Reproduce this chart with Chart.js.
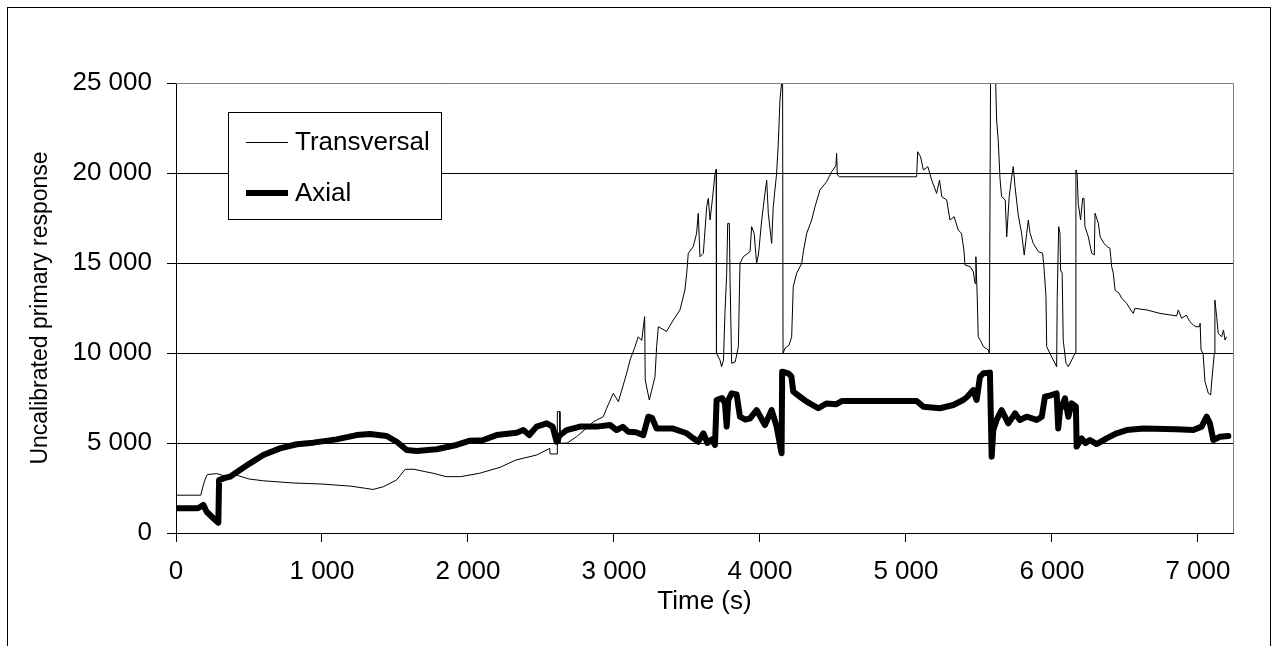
<!DOCTYPE html>
<html>
<head>
<meta charset="utf-8">
<script src="https://cdn.jsdelivr.net/npm/chart.js@4.4.0/dist/chart.umd.min.js"></script>
<style>
  html, body { margin: 0; padding: 0; background: #fff; }
  #wrap { width: 1274px; height: 646px; position: relative; }
</style>
</head>
<body>
<div id="wrap"><canvas id="chart"></canvas></div>
<script>
// ---- data ----
var transTime = [0, 170, 185, 200, 215, 280, 320, 420, 500, 600, 800, 1000, 1200, 1300, 1350, 1420, 1510, 1570, 1630, 1700,
  1760, 1850, 1950, 2080, 2220, 2330, 2470, 2560, 2562, 2610, 2612, 2628, 2630, 2680, 2744, 2836, 2858, 2927, 2950, 2995,
  3030, 3087, 3110, 3144, 3166, 3190, 3210, 3214, 3242, 3281, 3292, 3304, 3360, 3406, 3452, 3486, 3498, 3509, 3543, 3566,
  3577, 3589, 3612, 3635, 3646, 3658, 3675, 3692, 3700, 3702, 3726, 3737, 3750, 3760, 3772, 3779, 3790, 3795, 3806, 3830,
  3852, 3863, 3886, 3932, 3943, 3960, 3977, 3990, 4012, 4034, 4046, 4057, 4080, 4091, 4114, 4125, 4137, 4148, 4155, 4158,
  4171, 4200, 4217, 4228, 4251, 4286, 4297, 4320, 4354, 4377, 4411, 4457, 4491, 4520, 4525, 4530, 4545, 5073, 5080, 5100,
  5119, 5150, 5176, 5210, 5230, 5245, 5279, 5301, 5330, 5358, 5380, 5397, 5404, 5440, 5461, 5473, 5479, 5488, 5495, 5510,
  5530, 5564, 5571, 5580, 5610, 5621, 5632, 5644, 5655, 5680, 5690, 5707, 5724, 5735, 5747, 5769, 5792, 5810, 5827, 5838,
  5850, 5872, 5907, 5936, 5945, 5959, 5964, 5986, 6009, 6032, 6036, 6046, 6055, 6059, 6070, 6077, 6096, 6112, 6135, 6158,
  6164, 6172, 6180, 6196, 6210, 6219, 6226, 6249, 6272, 6290, 6295, 6318, 6330, 6356, 6380, 6397, 6409, 6420, 6432, 6460,
  6477, 6512, 6540, 6557, 6568, 6650, 6740, 6854, 6865, 6888, 6920, 6945, 6970, 6986, 7010, 7015, 7021, 7035, 7048, 7071,
  7087, 7095, 7112, 7116, 7128, 7139, 7162, 7175, 7185, 7196];
var transValue = [2100, 2100, 2600, 3000, 3250, 3300, 3200, 3200, 3000, 2900, 2780, 2720, 2600, 2480, 2420, 2570, 2940, 3540, 3540, 3420,
  3320, 3130, 3130, 3320, 3650, 4060, 4330, 4700, 4390, 4390, 6740, 6740, 4980, 5000, 5350, 6000, 6180, 6460, 6930, 7760,
  7300, 8870, 9610, 10350, 10900, 10700, 12020, 8500, 7390, 8680, 10350, 11460, 11200, 11830, 12390, 13500, 14430, 15540, 15910, 16650,
  17760, 15350, 15540, 18130, 18590, 17390, 18600, 19980, 20200, 9980, 9610, 9240, 9610, 12200, 14430, 17200, 17200, 14060, 9430, 9500,
  10350, 14980, 15350, 15630, 17020, 16650, 14980, 15500, 17390, 18870, 19610, 17760, 16090, 18130, 19980, 21560, 24060, 25000, 25000, 9980,
  10260, 10450, 10900, 13690, 14430, 14980, 15630, 16650, 17390, 18130, 19060, 19520, 20070, 20400, 21090, 19890, 19790, 19790, 21180, 20900,
  20170, 20350, 19610, 18870, 19600, 18690, 18500, 17390, 17570, 16830, 16650, 15720, 14890, 14800, 14520, 13870, 15350, 13130, 10900, 10700,
  10350, 10170, 9980, 26500, 26500, 22940, 21830, 19700, 18690, 18500, 16460, 18690, 19790, 20350, 19240, 17670, 16650, 15440, 16650, 17390,
  16650, 16090, 15630, 15540, 14800, 13130, 10350, 9980, 9610, 9240, 13130, 17020, 16650, 14610, 14430, 10720, 9430, 9240, 9610, 9980,
  20170, 19980, 18310, 17390, 18590, 18590, 17020, 16460, 15540, 15450, 17760, 17200, 16460, 16090, 15900, 15820, 14800, 14430, 13500, 13320,
  13040, 12760, 12390, 12200, 12480, 12390, 12200, 12060, 12390, 11930, 12100, 11740, 11550, 11460, 11460, 11650, 10170, 9980, 8410, 7760,
  7670, 8500, 9980, 12940, 12020, 11090, 10900, 11280, 10720, 10900];

var axialTime = [0, 150, 187, 210, 256, 290, 295, 330, 370, 438, 507, 598, 712, 827, 940, 1100, 1237, 1329, 1443, 1512,
  1580, 1649, 1786, 1922, 2014, 2100, 2196, 2333, 2379, 2420, 2470, 2539, 2580, 2607, 2630, 2676, 2767, 2882, 2973, 3018,
  3060, 3098, 3150, 3201, 3235, 3260, 3292, 3400, 3498, 3543, 3577, 3612, 3640, 3670, 3692, 3703, 3740, 3760, 3772, 3783,
  3806, 3840, 3863, 3900, 3932, 3977, 4034, 4080, 4114, 4148, 4152, 4194, 4215, 4228, 4274, 4320, 4399, 4457, 4520, 4560,
  5073, 5119, 5233, 5324, 5392, 5420, 5461, 5484, 5507, 5530, 5575, 5587, 5598, 5621, 5655, 5701, 5747, 5780, 5827, 5895,
  5930, 5952, 5990, 6032, 6043, 6055, 6089, 6112, 6135, 6164, 6169, 6203, 6230, 6260, 6306, 6374, 6443, 6512, 6626, 6854,
  6968, 7025, 7059, 7082, 7105, 7151, 7208];
var axialValue = [1370, 1370, 1560, 1180, 820, 570, 2940, 3050, 3130, 3500, 3870, 4330, 4700, 4930, 5020, 5200, 5440, 5500, 5390, 5070,
  4610, 4560, 4650, 4890, 5130, 5150, 5440, 5570, 5720, 5440, 5910, 6090, 5910, 5070, 5440, 5720, 5910, 5910, 6000, 5720,
  5900, 5630, 5600, 5440, 6460, 6400, 5810, 5810, 5540, 5260, 5070, 5540, 5000, 5200, 4890, 7390, 7500, 7200, 5910, 7390,
  7760, 7700, 6460, 6300, 6370, 6830, 6000, 6830, 5910, 4430, 8960, 8870, 8700, 7850, 7570, 7300, 6930, 7200, 7150, 7330,
  7330, 7020, 6930, 7110, 7390, 7570, 7940, 7390, 8680, 8870, 8910, 4240, 5720, 6280, 6830, 6090, 6650, 6280, 6460, 6280,
  6460, 7570, 7650, 7760, 5810, 6830, 7480, 6460, 7200, 7020, 4800, 5260, 5000, 5170, 4940, 5260, 5540, 5720, 5810, 5760,
  5720, 5910, 6460, 6090, 5170, 5350, 5390];

var xTicks = [0, 1000, 2000, 3000, 4000, 5000, 6000, 7000];
var yTicks = [0, 5000, 10000, 15000, 20000, 25000];
var seriesNames = ["Transversal", "Axial"];

function points(t, v) {
  return t.map(function(x, i) { return { x: x, y: v[i] }; });
}
function fmt(v) {
  return String(v).replace(/\B(?=(\d{3})+(?!\d))/g, " ");
}

var FONT = "'Liberation Sans', Arial, sans-serif";

// white page + outer frame + plot border (top/right) + legend box
var decor = {
  id: "decor",
  beforeDraw: function(chart) {
    var c = chart.ctx;
    c.save();
    c.fillStyle = "#fff";
    c.fillRect(0, 0, chart.width, chart.height);
    c.restore();
  },
  afterDatasetsDraw: function(chart) {
    var c = chart.ctx, a = chart.chartArea;
    c.save();
    c.strokeStyle = "#808080";
    c.lineWidth = 1;
    c.beginPath();
    c.moveTo(a.left, a.top + 0.5);
    c.lineTo(a.right + 0.5, a.top + 0.5);
    c.lineTo(a.right + 0.5, a.bottom);
    c.stroke();
    c.restore();
  },
  afterDraw: function(chart) {
    var c = chart.ctx;
    c.save();
    c.strokeStyle = "#000";
    c.lineWidth = 1;
    c.strokeRect(7.5, 7.5, 1263, 700);

    // legend
    c.fillStyle = "#fff";
    c.fillRect(228, 112, 214, 107);
    c.strokeRect(228.5, 112.5, 213, 107);
    c.font = "26px " + FONT;
    c.textBaseline = "middle";
    c.fillStyle = "#000";
    var rows = [142, 193];
    chart.data.datasets.forEach(function(ds, i) {
      c.lineWidth = ds.borderWidth;
      c.lineCap = "butt";
      c.beginPath();
      c.moveTo(246, rows[i] + (ds.borderWidth % 2 ? 0.5 : 0));
      c.lineTo(288, rows[i] + (ds.borderWidth % 2 ? 0.5 : 0));
      c.stroke();
      c.fillText(ds.label, 295, rows[i] + 1);
    });
    c.restore();
  }
};

new Chart(document.getElementById("chart"), {
  type: "line",
  data: {
    datasets: [
      {
        label: seriesNames[0],
        data: points(transTime, transValue),
        borderColor: "#000",
        borderWidth: 1,
        pointRadius: 0,
        tension: 0,
        order: 1
      },
      {
        label: seriesNames[1],
        data: points(axialTime, axialValue),
        borderColor: "#000",
        borderWidth: 6,
        borderJoinStyle: "round",
        borderCapStyle: "round",
        pointRadius: 0,
        tension: 0,
        order: 0
      }
    ]
  },
  options: {
    responsive: true,
    maintainAspectRatio: false,
    animation: false,
    devicePixelRatio: 1,
    layout: { padding: { left: 0, right: 41, top: 83, bottom: 0 } },
    plugins: {
      legend: { display: false },
      tooltip: { enabled: false }
    },
    scales: {
      x: {
        type: "linear",
        min: 0,
        max: 7240,
        afterBuildTicks: function(s) { s.ticks = xTicks.map(function(v) { return { value: v }; }); },
        afterFit: function(s) { s.height = 113; },
        ticks: {
          callback: function(v) { return fmt(v); },
          color: "#000",
          font: { family: FONT, size: 26 },
          padding: 14,
          maxRotation: 0,
          autoSkip: false
        },
        grid: { drawOnChartArea: false, drawTicks: true, tickLength: 9, color: "#000" },
        border: { color: "#000", width: 1 },
        title: {
          display: true,
          text: "Time (s)",
          color: "#000",
          font: { family: FONT, size: 26 },
          padding: { top: 0, bottom: 29 }
        }
      },
      y: {
        type: "linear",
        min: 0,
        max: 25000,
        afterBuildTicks: function(s) { s.ticks = yTicks.map(function(v) { return { value: v }; }); },
        afterFit: function(s) { s.width = 176; },
        ticks: {
          callback: function(v) { return fmt(v); },
          color: "#000",
          font: { family: FONT, size: 26 },
          padding: 15
        },
        grid: { color: "#000", tickLength: 9 },
        border: { color: "#000", width: 1 },
        title: {
          display: true,
          text: "Uncalibrated primary response",
          color: "#000",
          font: { family: FONT, size: 23 },
          padding: { top: 27, bottom: 0 }
        }
      }
    }
  },
  plugins: [decor]
});
</script>
</body>
</html>
